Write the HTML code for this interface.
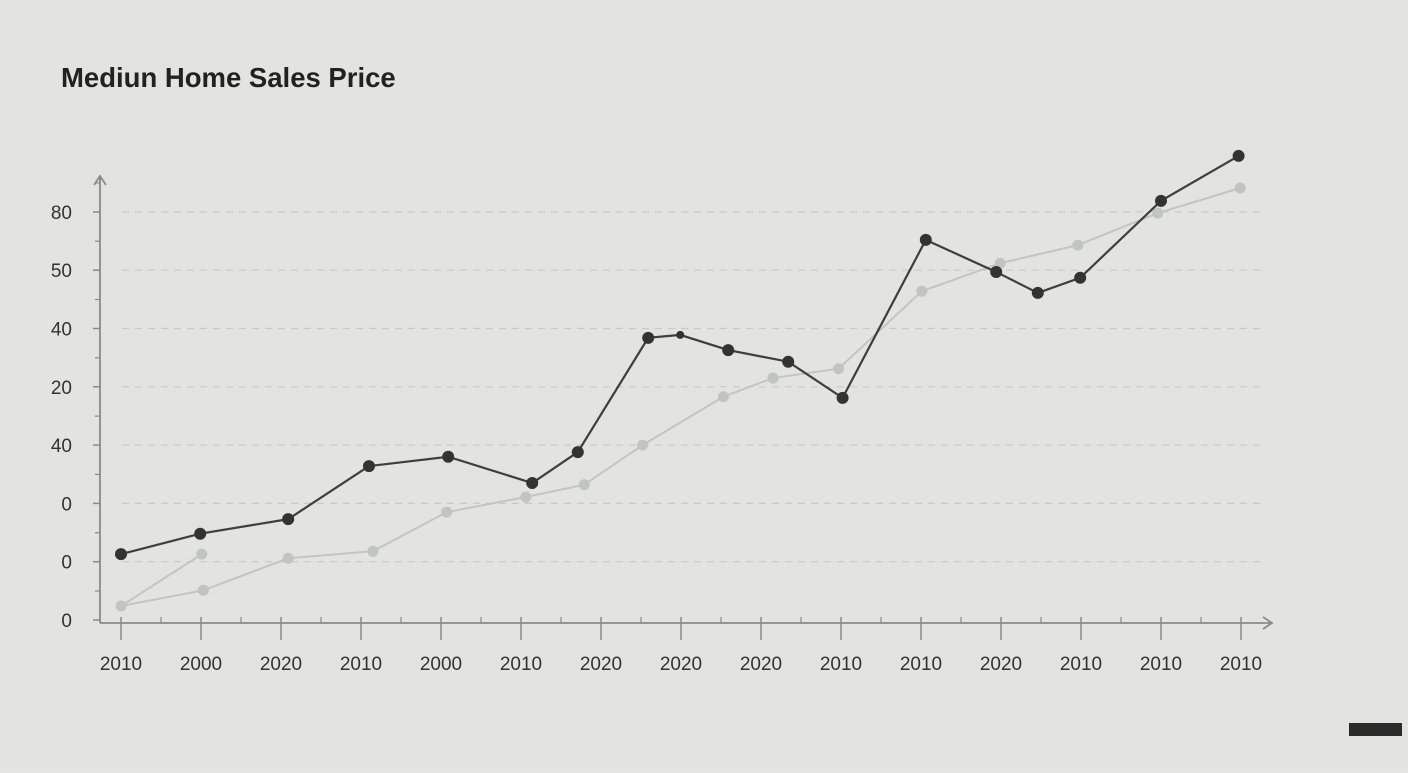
<!DOCTYPE html>
<html><head><meta charset="utf-8"><style>
html,body{margin:0;padding:0;background:#e4e4e0;}
body{width:1408px;height:768px;overflow:hidden;font-family:"Liberation Sans",sans-serif;}
svg text{font-family:"Liberation Sans",sans-serif;}
</style></head><body>
<svg width="1408" height="768" viewBox="0 0 1408 768" id="chart">
<rect width="1408" height="768" fill="#e3e3df"/>
<text x="61" y="87" font-size="27.5" font-weight="bold" fill="#222">Mediun Home Sales Price</text>
<rect x="1349" y="723" width="53" height="13" fill="#2b2b2b"/>
<g id="grid"></g><g id="axes"></g><g id="series"></g>
</svg>
<script>
const xLabels=["2010","2000","2020","2010","2000","2010","2020","2020","2020","2010","2010","2020","2010","2010","2010"];
const yTickLabels=["0","0","0","40","20","40","50","80"];
const darkX=[0,0.99,2.09,3.1,4.09,5.14,5.71,6.59,6.99,7.59,8.34,9.02,10.06,10.94,11.46,11.99,13.0,13.97];
const darkY=[11.3,14.8,17.3,26.4,28.0,23.5,28.8,48.4,48.9,46.3,44.3,38.1,65.2,59.7,56.1,58.7,71.9,79.6];
const darkSmall=[8];
const lightX=[0,1.03,2.09,3.15,4.07,5.06,5.79,6.52,7.53,8.15,8.97,10.01,10.99,11.96,12.96,13.99];
const lightY=[2.4,5.1,10.6,11.8,18.5,21.1,23.2,30.0,38.3,41.5,43.1,56.4,61.2,64.3,69.8,74.1];
const branchX=[0,1.01];
const branchY=[2.4,11.3];

const NS="http://www.w3.org/2000/svg";
const xs=i=>121+i*80;
const ys=v=>620-v*5.83;
function mk(tag,attrs,parent){const e=document.createElementNS(NS,tag);for(const k in attrs)e.setAttribute(k,attrs[k]);parent.appendChild(e);return e;}
const grid=document.getElementById('grid'),axes=document.getElementById('axes'),series=document.getElementById('series');

yTickLabels.forEach((t,i)=>{
  const y=ys(i*10);
  if(i>0){const g=mk('line',{x1:122,x2:1265,y1:y,y2:y,stroke:'#c9c9c5','stroke-width':1.2,'stroke-dasharray':'7 6'},grid);
  
  }
  const tk=mk('line',{x1:93,x2:100,y1:y,y2:y,stroke:'#8a8a88','stroke-width':1.5},axes);
  
  
  const mt=mk('line',{x1:95,x2:100,y1:y-29,y2:y-29,stroke:'#8a8a88','stroke-width':1.2},axes);
  
  
  const tx=mk('text',{x:72,y:y+7,'font-size':19,fill:'#333','text-anchor':'end'},axes);
  tx.textContent=t;
  
  
});
const ya=mk('path',{d:'M100,623 L100,176 M94,185 L100,176 L106,185',stroke:'#8a8a88','stroke-width':1.8,fill:'none'},axes);


const xa=mk('path',{d:'M100,623 L1272,623 M1263,617 L1272,623 L1263,629',stroke:'#8a8a88','stroke-width':1.8,fill:'none'},axes);


xLabels.forEach((t,i)=>{
  const x=xs(i);
  const tk=mk('line',{x1:x,x2:x,y1:617,y2:640,stroke:'#8a8a88','stroke-width':1.5},axes);
  
  
  if(i<xLabels.length-1){const mt=mk('line',{x1:x+40,x2:x+40,y1:617,y2:623,stroke:'#8a8a88','stroke-width':1.2},axes);
  
  }
  const tx=mk('text',{x:x,y:670,'font-size':19,fill:'#333','text-anchor':'middle'},axes);
  tx.textContent=t;
  
  
});
function line(X,Y){return X.map((x,i)=>(i?'L':'M')+xs(x)+','+ys(Y[i])).join(' ');}
const lb=mk('path',{d:line(branchX,branchY),stroke:'#c4c4c2','stroke-width':2,fill:'none'},series);


const lp=mk('path',{d:line(lightX,lightY),stroke:'#c4c4c2','stroke-width':2,fill:'none'},series);


lightX.concat([branchX[1]]).forEach((x,i)=>{
  const v=i<lightX.length?lightY[i]:branchY[1];
  const c=mk('circle',{cx:xs(x),cy:ys(v),r:5.5,fill:'#c2c3c3'},series);
  
  
});
const dp=mk('path',{d:line(darkX,darkY),stroke:'#3e3e3e','stroke-width':2.2,fill:'none'},series);


darkX.forEach((x,i)=>{
  const c=mk('circle',{cx:xs(x),cy:ys(darkY[i]),r:darkSmall.includes(i)?4:6,fill:'#333'},series);
  
  
});
</script>
</body></html>
